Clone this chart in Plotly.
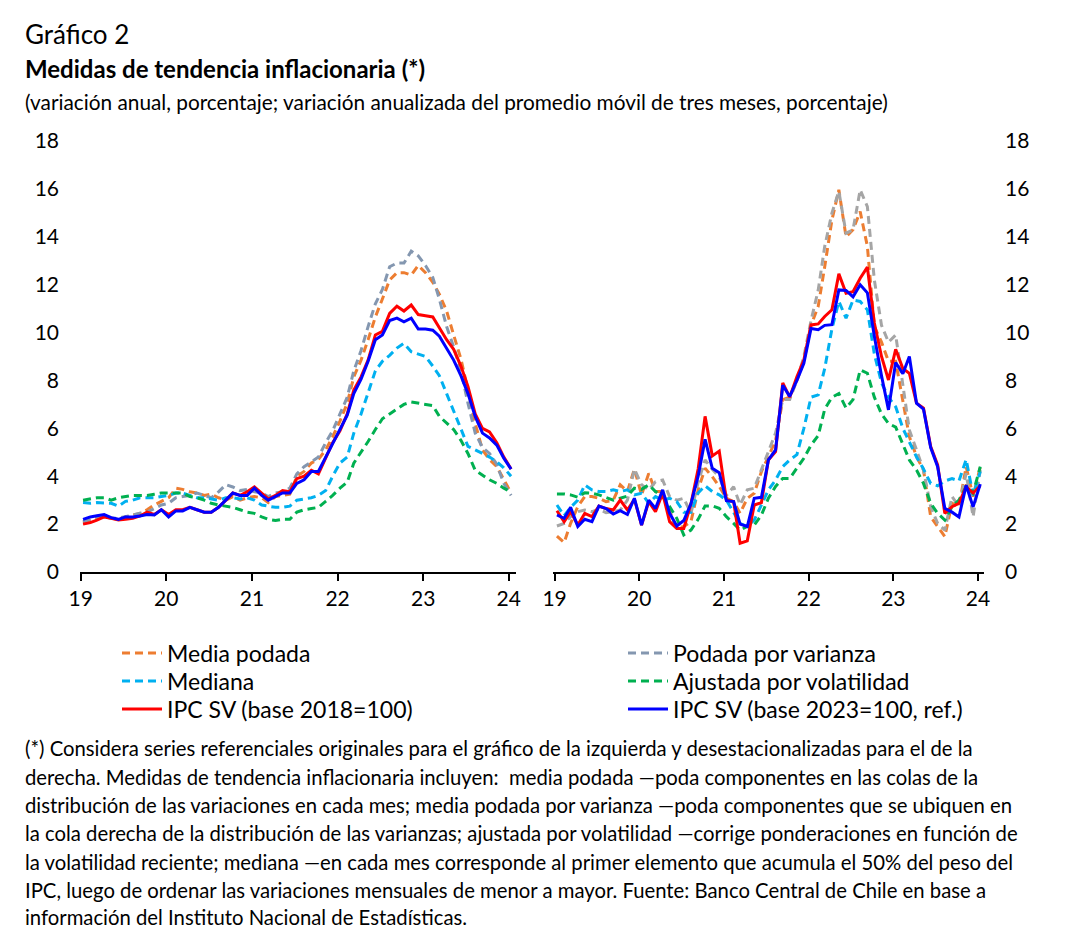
import plotly.graph_objects as go
import pandas as pd

W, H = 1075, 946

# ---------------- data ----------------
months = pd.date_range("2019-01-01", "2024-01-01", freq="MS") + pd.Timedelta(days=10)
tick_vals = pd.date_range("2019-01-01", "2024-01-01", freq="YS")
tick_labels = ["19", "20", "21", "22", "23", "24"]
y_ticks = [0, 2, 4, 6, 8, 10, 12, 14, 16, 18]

# Left panel (annual change, %)
left_media_podada = [2.05, 2.17, 2.25, 2.3, 2.25, 2.2, 2.3, 2.38, 2.45, 2.6, 2.8, 2.95,
                     3.1, 3.5, 3.45, 3.35, 3.3, 3.2, 3.25, 3.1, 3.0, 3.15, 3.0, 3.1,
                     3.15, 3.1, 2.9, 3.15, 3.2, 3.25, 4.0, 4.2, 4.55, 4.7, 5.1, 5.65,
                     6.3, 7.05, 8.15, 8.85, 9.7, 10.65, 11.4, 12.2, 12.5, 12.5, 12.4, 12.8,
                     12.5, 12.1, 11.6, 10.9, 9.9, 8.9, 7.6, 6.2, 5.1, 4.7, 4.4, 3.85, 3.3]
left_podada_varianza = [2.1, 2.2, 2.3, 2.3, 2.25, 2.25, 2.3, 2.38, 2.45, 2.5, 2.65, 2.8,
                        2.87, 3.1, 3.15, 3.2, 3.3, 3.2, 3.1, 3.35, 3.65, 3.55, 3.4, 3.45,
                        3.35, 3.3, 3.15, 3.3, 3.35, 3.5, 4.1, 4.4, 4.6, 4.8, 5.4, 5.9,
                        6.6, 7.3, 8.4, 9.25, 10.25, 11.2, 11.8, 12.75, 12.9, 12.9, 13.4, 13.2,
                        12.8, 12.3, 11.4, 10.25, 9.4, 8.4, 7.05, 5.8, 5.2, 4.95, 4.5, 3.7, 3.2]
left_mediana = [2.9, 2.87, 2.9, 2.9, 2.87, 2.75, 2.95, 3.0, 3.1, 3.1, 3.1, 3.15,
                3.2, 3.3, 3.3, 3.2, 3.1, 3.1, 3.05, 3.0, 3.1, 3.1, 3.05, 3.1,
                3.0, 2.8, 2.75, 2.7, 2.7, 2.75, 3.0, 3.05, 3.1, 3.2, 3.4, 4.0,
                4.55, 4.8, 5.8, 6.6, 7.45, 8.4, 8.8, 9.05, 9.35, 9.55, 9.2, 9.1,
                9.0, 8.6, 8.2, 7.45, 6.75, 5.95, 5.25, 5.1, 4.95, 4.8, 4.6, 4.35, 4.0]
left_ajustada_vol = [3.0, 3.05, 3.1, 3.1, 3.0, 3.1, 3.15, 3.2, 3.2, 3.2, 3.25, 3.3,
                     3.3, 3.3, 3.3, 3.15, 3.1, 3.0, 2.87, 2.8, 2.75, 2.7, 2.6, 2.5,
                     2.45, 2.3, 2.2, 2.15, 2.2, 2.2, 2.5, 2.6, 2.65, 2.7, 2.95, 3.2,
                     3.5, 3.75, 4.55, 5.0, 5.45, 5.95, 6.4, 6.6, 6.8, 7.0, 7.1, 7.05,
                     7.0, 6.95, 6.5, 6.2, 5.95, 5.5, 4.95, 4.25, 4.05, 3.85, 3.7, 3.5, 3.35]
left_ipc_sv_2018 = [2.0, 2.06, 2.17, 2.3, 2.24, 2.17, 2.2, 2.24, 2.34, 2.5, 2.4, 2.6,
                    2.4, 2.6, 2.6, 2.7, 2.6, 2.5, 2.5, 2.7, 3.0, 3.3, 3.2, 3.35,
                    3.55, 3.3, 3.05, 3.2, 3.4, 3.35, 3.9, 4.0, 4.25, 4.1, 4.8, 5.4,
                    5.9, 6.6, 7.6, 8.15, 8.85, 9.9, 10.05, 10.8, 11.1, 10.9, 11.15, 10.75,
                    10.7, 10.65, 10.2, 9.7, 9.3, 8.6, 7.75, 6.6, 6.0, 5.85, 5.4, 4.8, 4.3]
left_ipc_sv_2023 = [2.2, 2.3, 2.35, 2.4, 2.27, 2.2, 2.3, 2.3, 2.34, 2.4, 2.38, 2.6,
                    2.3, 2.55, 2.55, 2.7, 2.6, 2.5, 2.5, 2.7, 3.0, 3.3, 3.2, 3.2,
                    3.5, 3.2, 3.0, 3.15, 3.3, 3.3, 3.7, 3.85, 4.2, 4.2, 4.8, 5.4,
                    6.0, 6.55, 7.45, 8.05, 8.8, 9.7, 9.9, 10.5, 10.6, 10.45, 10.6, 10.15,
                    10.15, 10.1, 9.85, 9.35, 8.85, 8.2, 7.45, 6.5, 5.8, 5.6, 5.3, 4.75, 4.3]

# Right panel (annualized 3-month moving average change, %)
right_media_podada = [1.5, 1.23, 2.03, 2.73, 3.15, 3.15, 3.08, 2.94, 3.0, 3.64, 3.36, 4.3,
                      3.22, 4.12, 3.36, 3.36, 2.52, 1.82, 1.9, 2.1, 3.43, 4.33, 3.98, 3.57,
                      3.08, 2.94, 2.45, 3.08, 3.29, 4.19, 4.82, 5.5, 7.2, 7.3, 8.0, 8.8,
                      10.3, 11.1, 12.75, 14.7, 15.96, 14.0, 14.3, 15.05, 13.6, 10.25, 9.6, 8.8,
                      8.8, 7.2, 5.65, 4.82, 4.26, 2.31, 1.9, 1.48, 2.87, 2.73, 4.4, 3.15, 4.4]
right_podada_varianza = [1.92, 2.03, 2.31, 2.52, 2.59, 2.52, 2.62, 2.48, 2.52, 2.59, 3.0, 4.3,
                         3.64, 3.43, 3.77, 3.84, 3.15, 3.0, 3.08, 2.45, 3.75, 4.68, 4.29, 3.98,
                         3.2, 3.56, 2.8, 3.43, 3.5, 4.26, 5.03, 5.8, 7.2, 7.2, 8.0, 9.0,
                         10.5, 11.78, 13.6, 14.99, 15.9, 14.15, 14.29, 15.96, 15.26, 12.2, 10.3, 9.6,
                         9.9, 7.8, 5.93, 5.1, 4.26, 2.73, 2.03, 1.75, 3.15, 2.73, 4.12, 2.31, 4.26]
right_mediana = [2.8, 2.35, 2.7, 3.0, 3.64, 3.43, 3.36, 3.36, 3.43, 3.36, 3.43, 3.22,
                 3.29, 2.87, 3.15, 3.0, 3.08, 2.94, 2.5, 2.5, 3.3, 3.6, 3.36, 3.22,
                 3.0, 2.52, 2.03, 1.9, 2.17, 2.8, 3.43, 3.84, 4.4, 4.68, 4.9, 6.0,
                 7.3, 7.4, 8.5, 10.15, 11.3, 10.6, 11.36, 11.3, 10.95, 9.1, 7.9, 7.3,
                 6.9, 6.0, 5.4, 4.8, 4.3, 3.7, 3.6, 3.8, 3.9, 3.8, 4.7, 3.2, 4.2]
right_ajustada_vol = [3.26, 3.26, 3.22, 3.12, 3.31, 3.29, 3.22, 3.12, 3.0, 3.08, 3.17, 3.5,
                      3.45, 3.64, 3.36, 3.15, 2.73, 2.24, 1.55, 1.75, 2.2, 2.76, 2.76, 2.66,
                      2.31, 2.03, 1.75, 1.9, 1.96, 2.38, 3.08, 3.57, 3.91, 3.91, 4.33, 4.75,
                      5.3, 5.7, 6.8, 7.3, 7.45, 6.85, 7.2, 8.44, 8.3, 7.3, 6.6, 6.2,
                      6.05, 5.3, 4.68, 4.26, 3.7, 2.87, 2.45, 2.17, 2.73, 3.0, 3.57, 3.29, 4.4]
right_ipc_sv_2018 = [2.56, 2.1, 2.52, 1.96, 2.45, 2.31, 2.75, 2.65, 2.59, 3.0, 2.59, 3.04,
                     1.96, 2.94, 2.52, 3.29, 2.1, 1.82, 1.82, 2.85, 4.3, 6.5, 4.85, 5.05,
                     3.0, 2.94, 1.2, 1.3, 2.8, 2.9, 4.68, 5.03, 7.9, 7.3, 8.15, 8.85,
                     10.32, 10.36, 10.67, 10.95, 12.45, 11.64, 11.71, 12.27, 12.73, 10.4, 9.0, 8.02,
                     9.3, 8.5, 8.3, 7.05, 6.84, 5.24, 4.47, 2.45, 2.73, 2.87, 3.57, 3.3, 3.6]
right_ipc_sv_2023 = [2.38, 2.24, 2.7, 1.9, 2.2, 2.1, 2.75, 2.65, 2.42, 2.56, 2.4, 3.08,
                     1.96, 3.0, 2.65, 3.43, 2.45, 1.92, 2.15, 2.85, 4.0, 5.54, 4.33, 4.15,
                     2.98, 2.94, 2.0, 1.9, 3.08, 3.12, 4.68, 5.1, 7.8, 7.33, 8.0, 8.72,
                     10.17, 10.12, 10.3, 10.33, 11.78, 11.76, 11.49, 12.0, 11.66, 9.85, 8.2, 6.77,
                     8.75, 8.28, 9.0, 7.05, 6.8, 5.2, 4.4, 2.66, 2.5, 2.3, 3.62, 2.72, 3.67]

names = ["Media podada", "Podada por varianza", "Mediana", "Ajustada por volatilidad",
         "IPC SV (base 2018=100)", "IPC SV (base 2023=100, ref.)"]

# ---------------- styles ----------------
FONT = "Lato"
C_ORANGE = "#ED7D31"
C_GRAY_L = "#8497B0"
C_GRAY_R = "#A5A5A5"
C_LBLUE = "#00B0F0"
C_GREEN = "#00B050"
C_RED = "#FF0000"
C_BLUE = "#0000FF"
DASH = "8px,5px"
OFF = 8  # page body offset


def px_x(p):
    return (p - OFF) / W


def px_y(p):
    return 1 - (p - OFF) / H


fig = go.Figure()

legend_ids = ["legend", "legend2", "legend3", "legend4", "legend5", "legend6"]
left = [
    (left_media_podada, names[0], C_ORANGE, DASH),
    (left_podada_varianza, names[1], C_GRAY_L, DASH),
    (left_mediana, names[2], C_LBLUE, DASH),
    (left_ajustada_vol, names[3], C_GREEN, DASH),
    (left_ipc_sv_2018, names[4], C_RED, "solid"),
    (left_ipc_sv_2023, names[5], C_BLUE, "solid"),
]
right = [
    (right_media_podada, names[0], C_ORANGE, DASH),
    (right_podada_varianza, names[1], C_GRAY_R, DASH),
    (right_mediana, names[2], C_LBLUE, DASH),
    (right_ajustada_vol, names[3], C_GREEN, DASH),
    (right_ipc_sv_2018, names[4], C_RED, "solid"),
    (right_ipc_sv_2023, names[5], C_BLUE, "solid"),
]

for (vals, name, col, dash), lg in zip(left, legend_ids):
    fig.add_trace(go.Scatter(x=months, y=vals, name=name, mode="lines",
                             line=dict(color=col, width=3, dash=dash),
                             xaxis="x", yaxis="y", legend=lg, showlegend=True))
for vals, name, col, dash in right:
    fig.add_trace(go.Scatter(x=months, y=vals, name=name, mode="lines",
                             line=dict(color=col, width=3, dash=dash),
                             xaxis="x2", yaxis="y2", showlegend=False))

axis_font = dict(family=FONT, size=21, color="#000000")
xcommon = dict(type="date", tickvals=list(tick_vals), ticktext=tick_labels,
               showline=True, linecolor="#000000", linewidth=1.5,
               ticks="outside", ticklen=7, tickwidth=1.5, tickcolor="#000000",
               showgrid=False, zeroline=False, tickfont=axis_font, automargin=False)
ycommon = dict(range=[0, 18], tickvals=y_ticks, showgrid=False, zeroline=False,
               showline=False, ticks="", tickfont=axis_font, automargin=False,
               domain=[px_y(572), px_y(141)])

legend_font = dict(family=FONT, size=23, color="#000000")
legend_pos = {
    "legend": (117, 653), "legend3": (117, 681), "legend5": (117, 709),
    "legend2": (623, 653), "legend4": (623, 681), "legend6": (623, 709),
}
legend_layout = {}
for lg, (lx, ly) in legend_pos.items():
    legend_layout[lg] = dict(x=px_x(lx), y=px_y(ly), xanchor="left", yanchor="middle",
                             orientation="v", font=legend_font, itemwidth=40,
                             bgcolor="rgba(0,0,0,0)", borderwidth=0)

fig.update_layout(
    width=W, height=H,
    margin=dict(l=0, r=0, t=0, b=0, autoexpand=False),
    paper_bgcolor="white", plot_bgcolor="white",
    font=dict(family=FONT, color="#000000"),
    xaxis=dict(xcommon, domain=[px_x(80), px_x(516)], anchor="y",
               range=["2018-12-29", "2024-02-01"]),
    yaxis=dict(ycommon, anchor="x", side="left", ticklabelstandoff=20),
    xaxis2=dict(xcommon, domain=[px_x(553), px_x(984)], anchor="y2",
                range=["2018-12-25", "2024-01-27"]),
    yaxis2=dict(ycommon, anchor="x2", side="right", ticklabelstandoff=20),
    showlegend=True,
    **legend_layout,
)

annotations = [
    ("Gráfico 2", 34, 26),
    ("<b>Medidas de tendencia inflacionaria (*)</b>", 68, 24),
    ("(variación anual, porcentaje; variación anualizada del promedio móvil de tres meses, porcentaje)", 101, 20.8),
]
for text, yy, size in annotations:
    fig.add_annotation(text=text, x=px_x(23), y=px_y(yy), xref="paper", yref="paper",
                       xanchor="left", yanchor="middle", showarrow=False,
                       font=dict(family=FONT, size=size, color="#000000"))

foot_lines = [
    "(*) Considera series referenciales originales para el gráfico de la izquierda y desestacionalizadas para el de la",
    "derecha. Medidas de tendencia inflacionaria incluyen:  media podada —poda componentes en las colas de la",
    "distribución de las variaciones en cada mes; media podada por varianza —poda componentes que se ubiquen en",
    "la cola derecha de la distribución de las varianzas; ajustada por volatilidad —corrige ponderaciones en función de",
    "la volatilidad reciente; mediana —en cada mes corresponde al primer elemento que acumula el 50% del peso del",
    "IPC, luego de ordenar las variaciones mensuales de menor a mayor. Fuente: Banco Central de Chile en base a",
    "información del Instituto Nacional de Estadísticas.",
]
foot_y = [748, 777, 805, 833, 862, 890, 917]
for line, yy in zip(foot_lines, foot_y):
    fig.add_annotation(text=line, x=px_x(23), y=px_y(yy), xref="paper", yref="paper",
                       xanchor="left", yanchor="middle", showarrow=False,
                       font=dict(family=FONT, size=20.3, color="#000000"))

fig.write_html("out.html")
